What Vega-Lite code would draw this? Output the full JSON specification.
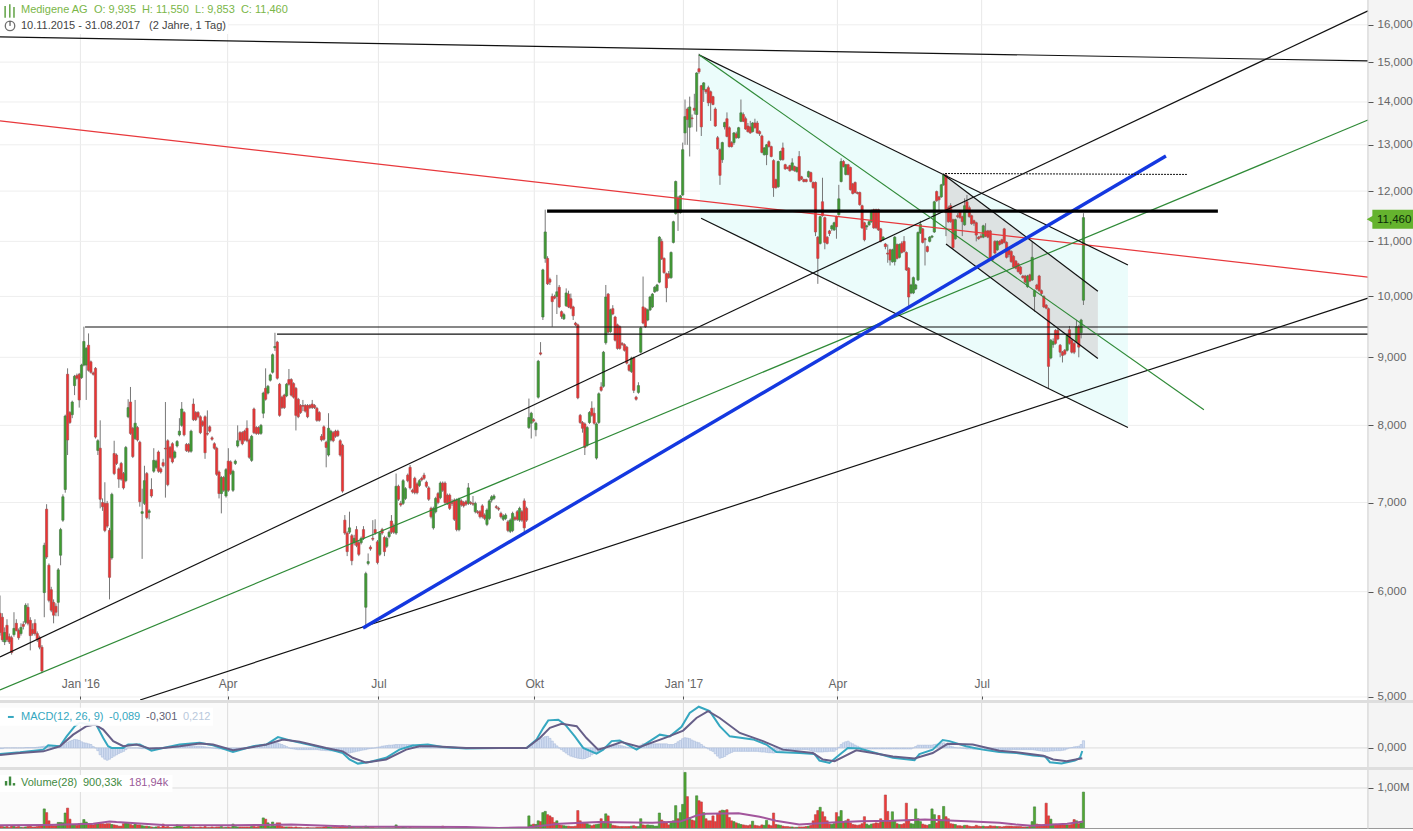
{"$schema":"https://vega.github.io/schema/vega-lite/v6.json","background":"#dedede","padding":0,"spacing":3,"bounds":"flush","autosize":{"type":"pad"},"config":{"view":{"stroke":null,"fill":"#ffffff"},"axis":{"labelFont":"Liberation Sans","labelFontSize":11.5,"labelColor":"#666666","title":null,"domain":false,"grid":false,"tickColor":"#555555"},"text":{"font":"Liberation Sans","fontSize":11,"align":"left","baseline":"middle"}},
"datasets":{
"vgrid":[{"s":34.5},{"s":97.7},{"s":162.4},{"s":229.3},{"s":293.3},{"s":359.4},{"s":421.3}],
"hgrid":[{"a":0,"b":587.1,"p":5},{"a":0,"b":587.1,"p":6},{"a":0,"b":587.1,"p":7},{"a":0,"b":587.1,"p":8},{"a":0,"b":587.1,"p":9},{"a":0,"b":587.1,"p":10},{"a":0,"b":587.1,"p":11},{"a":0,"b":587.1,"p":12},{"a":0,"b":587.1,"p":13},{"a":0,"b":587.1,"p":14},{"a":0,"b":587.1,"p":15},{"a":0,"b":587.1,"p":16}],
"candles":[
{"s":0,"o":5.78,"h":5.96,"l":5.56,"c":5.59,"v":70,"m":-0.02},{"s":1,"o":5.74,"h":5.78,"l":5.5,"c":5.52,"v":60,"m":-0.02},{"s":2,"o":5.5,"h":5.64,"l":5.47,"c":5.59,"v":50,"m":0},{"s":3,"o":5.66,"h":5.72,"l":5.5,"c":5.52,"v":60,"m":0},{"s":4,"o":5.55,"h":5.58,"l":5.48,"c":5.5,"v":40,"m":0},{"s":5,"o":5.54,"h":5.56,"l":5.38,"c":5.4,"v":70,"m":0},{"s":6,"o":5.57,"h":5.79,"l":5.55,"c":5.63,"v":60,"m":0},{"s":7,"o":5.68,"h":5.72,"l":5.6,"c":5.61,"v":50,"m":0},{"s":8,"o":5.61,"h":5.63,"l":5.52,"c":5.54,"v":60,"m":0},{"s":9,"o":5.58,"h":5.68,"l":5.56,"c":5.64,"v":40,"m":0},{"s":10,"o":5.67,"h":5.7,"l":5.62,"c":5.65,"v":40,"m":0},{"s":11,"o":5.69,"h":5.88,"l":5.67,"c":5.86,"v":50,"m":0.01},{"s":12,"o":5.84,"h":5.88,"l":5.66,"c":5.68,"v":60,"m":0.01},{"s":13,"o":5.71,"h":5.74,"l":5.42,"c":5.56,"v":70,"m":0.01},{"s":14,"o":5.62,"h":5.68,"l":5.56,"c":5.58,"v":50,"m":0.01},{"s":15,"o":5.68,"h":5.72,"l":5.56,"c":5.58,"v":50,"m":0.01},{"s":16,"o":5.58,"h":5.6,"l":5.5,"c":5.52,"v":60,"m":0.02},{"s":17,"o":5.54,"h":5.56,"l":5.43,"c":5.45,"v":70,"m":0.03},{"s":18,"o":5.45,"h":5.47,"l":5.21,"c":5.23,"v":110,"m":0.04},
{"s":19,"o":5.99,"h":6.53,"l":5.74,"c":6.5,"v":490,"m":0.05},{"s":20,"o":6.92,"h":6.98,"l":6.35,"c":6.37,"v":400,"m":0.05},{"s":21,"o":6.28,"h":6.3,"l":5.89,"c":5.91,"v":200,"m":0.05},{"s":22,"o":6.02,"h":6.05,"l":5.79,"c":5.81,"v":90,"m":0.05},{"s":23,"o":5.89,"h":5.92,"l":5.68,"c":5.76,"v":80,"m":0.05},{"s":24,"o":5.85,"h":5.88,"l":5.75,"c":5.79,"v":80,"m":0.05},{"s":25,"o":5.89,"h":6.25,"l":5.75,"c":6.23,"v":160,"m":0.05},{"s":26,"o":6.39,"h":6.7,"l":6.28,"c":6.68,"v":160,"m":0.06},{"s":27,"o":6.79,"h":7.1,"l":6.77,"c":7.07,"v":150,"m":0.08},{"s":28,"o":7.16,"h":8.15,"l":7.12,"c":8.13,"v":390,"m":0.12},{"s":29,"o":8.74,"h":8.83,"l":7.6,"c":7.8,"v":510,"m":0.16},{"s":30,"o":8.18,"h":8.2,"l":8.02,"c":8.04,"v":240,"m":0.2},{"s":31,"o":8.15,"h":8.35,"l":8.1,"c":8.33,"v":110,"m":0.22},{"s":32,"o":8.57,"h":8.73,"l":8.43,"c":8.71,"v":110,"m":0.25},{"s":33,"o":8.72,"h":8.75,"l":8.66,"c":8.68,"v":90,"m":0.24},{"s":34,"o":8.74,"h":8.76,"l":8.25,"c":8.36,"v":130,"m":0.22},{"s":35,"o":8.69,"h":8.9,"l":8.67,"c":8.88,"v":140,"m":0.18},{"s":36,"o":8.88,"h":9.49,"l":8.86,"c":9.25,"v":230,"m":0.15},{"s":37,"o":8.88,"h":9.16,"l":8.36,"c":9.14,"v":170,"m":0.14},{"s":38,"o":9.19,"h":9.38,"l":8.78,"c":8.8,"v":130,"m":0.12},{"s":39,"o":8.93,"h":8.95,"l":8.75,"c":8.77,"v":120,"m":0.1},{"s":40,"o":8.76,"h":8.78,"l":8.72,"c":8.74,"v":100,"m":0.04},{"s":41,"o":8.83,"h":8.85,"l":7.82,"c":7.84,"v":130,"m":0},{"s":42,"o":7.66,"h":7.81,"l":7.6,"c":7.79,"v":120,"m":-0.08},{"s":43,"o":7.69,"h":8.07,"l":6.93,"c":7.04,"v":140,"m":-0.2},{"s":44,"o":7.0,"h":7.05,"l":6.9,"c":6.95,"v":130,"m":-0.27},{"s":45,"o":6.99,"h":7.25,"l":6.65,"c":6.67,"v":120,"m":-0.33},{"s":46,"o":6.99,"h":7.02,"l":6.7,"c":6.72,"v":130,"m":-0.36},{"s":47,"o":6.67,"h":6.7,"l":5.92,"c":6.15,"v":130,"m":-0.33},{"s":48,"o":6.36,"h":7.12,"l":6.34,"c":7.1,"v":110,"m":-0.28},{"s":49,"o":7.62,"h":7.79,"l":7.34,"c":7.36,"v":100,"m":-0.24},{"s":50,"o":7.6,"h":7.62,"l":7.47,"c":7.49,"v":90,"m":-0.2},{"s":51,"o":7.42,"h":7.44,"l":7.18,"c":7.29,"v":70,"m":-0.16},{"s":52,"o":7.49,"h":7.51,"l":7.27,"c":7.29,"v":70,"m":-0.13},{"s":53,"o":7.36,"h":7.38,"l":7.16,"c":7.18,"v":130,"m":-0.1},{"s":54,"o":7.27,"h":7.72,"l":7.25,"c":7.7,"v":150,"m":-0.05},{"s":55,"o":8.12,"h":8.37,"l":8.1,"c":8.25,"v":140,"m":0},{"s":56,"o":8.33,"h":8.55,"l":7.87,"c":7.89,"v":110,"m":0},{"s":57,"o":7.96,"h":7.98,"l":7.56,"c":7.58,"v":90,"m":0},{"s":58,"o":7.82,"h":8.36,"l":7.8,"c":8.03,"v":120,"m":0},{"s":59,"o":7.97,"h":7.99,"l":7.78,"c":7.8,"v":100,"m":0},{"s":60,"o":7.77,"h":7.79,"l":6.95,"c":7.01,"v":100,"m":-0.01},{"s":61,"o":6.87,"h":7.17,"l":6.35,"c":6.89,"v":80,"m":-0.02},{"s":62,"o":6.99,"h":7.46,"l":6.97,"c":7.27,"v":70,"m":-0.02},{"s":63,"o":7.36,"h":7.38,"l":6.8,"c":6.82,"v":70,"m":-0.03},{"s":64,"o":6.88,"h":6.92,"l":6.8,"c":6.9,"v":60,"m":-0.04},{"s":65,"o":7.16,"h":7.3,"l":7.06,"c":7.08,"v":50,"m":-0.05},{"s":66,"o":7.39,"h":7.69,"l":7.37,"c":7.53,"v":40,"m":-0.04},{"s":67,"o":7.44,"h":7.54,"l":7.42,"c":7.52,"v":50,"m":-0.03},{"s":68,"o":7.64,"h":7.66,"l":7.37,"c":7.39,"v":60,"m":-0.02},{"s":69,"o":7.42,"h":7.44,"l":7.36,"c":7.38,"v":40,"m":-0.01},{"s":70,"o":7.5,"h":7.55,"l":7.44,"c":7.46,"v":120,"m":0},{"s":71,"o":7.69,"h":8.33,"l":7.06,"c":7.68,"v":50,"m":0},{"s":72,"o":7.79,"h":7.81,"l":7.2,"c":7.22,"v":60,"m":0.01},{"s":73,"o":7.7,"h":7.72,"l":7.55,"c":7.57,"v":40,"m":0.01},{"s":74,"o":7.75,"h":7.77,"l":7.49,"c":7.51,"v":40,"m":0.02},{"s":75,"o":7.57,"h":7.66,"l":7.55,"c":7.64,"v":50,"m":0.03},{"s":76,"o":7.72,"h":7.8,"l":7.7,"c":7.78,"v":100,"m":0.04},{"s":77,"o":7.87,"h":8.1,"l":7.85,"c":7.92,"v":90,"m":0.05},{"s":78,"o":8.0,"h":8.33,"l":7.98,"c":8.23,"v":60,"m":0.05},{"s":79,"o":8.18,"h":8.2,"l":7.85,"c":7.87,"v":50,"m":0.05},{"s":80,"o":7.74,"h":7.76,"l":7.64,"c":7.66,"v":50,"m":0.05},{"s":81,"o":7.74,"h":7.76,"l":7.63,"c":7.65,"v":60,"m":0.05},{"s":82,"o":7.65,"h":7.94,"l":7.63,"c":7.92,"v":50,"m":0.05},{"s":83,"o":8.3,"h":8.38,"l":8.06,"c":8.08,"v":50,"m":0.05},{"s":84,"o":8.18,"h":8.2,"l":8.06,"c":8.08,"v":40,"m":0.05},{"s":85,"o":8.18,"h":8.2,"l":8.1,"c":8.12,"v":40,"m":0.05},{"s":86,"o":8.12,"h":8.14,"l":7.88,"c":7.9,"v":50,"m":0.05},{"s":87,"o":8.05,"h":8.07,"l":7.98,"c":8.0,"v":40,"m":0.04},{"s":88,"o":8.12,"h":8.14,"l":7.55,"c":7.63,"v":60,"m":0.03},{"s":89,"o":7.89,"h":8.21,"l":7.86,"c":7.88,"v":40,"m":0.02},{"s":90,"o":7.98,"h":8.0,"l":7.9,"c":7.92,"v":40,"m":0.01},{"s":91,"o":7.83,"h":7.85,"l":7.79,"c":7.81,"v":50,"m":0},{"s":92,"o":7.75,"h":7.77,"l":7.67,"c":7.69,"v":40,"m":-0.01},{"s":93,"o":7.69,"h":7.71,"l":7.33,"c":7.35,"v":50,"m":-0.02},{"s":94,"o":7.38,"h":7.4,"l":7.05,"c":7.11,"v":50,"m":-0.03},{"s":95,"o":7.11,"h":7.33,"l":6.87,"c":7.31,"v":60,"m":-0.03},{"s":96,"o":7.31,"h":7.33,"l":7.13,"c":7.15,"v":40,"m":-0.04},{"s":97,"o":7.08,"h":7.43,"l":7.06,"c":7.41,"v":40,"m":-0.04},{"s":98,"o":7.52,"h":7.69,"l":7.13,"c":7.15,"v":50,"m":-0.05},{"s":99,"o":7.51,"h":7.53,"l":7.34,"c":7.36,"v":40,"m":-0.05},{"s":100,"o":7.15,"h":7.41,"l":7.13,"c":7.39,"v":120,"m":-0.05},{"s":101,"o":7.49,"h":7.54,"l":7.47,"c":7.52,"v":60,"m":-0.03},{"s":102,"o":7.72,"h":8.0,"l":7.7,"c":7.79,"v":50,"m":-0.02},{"s":103,"o":7.9,"h":7.92,"l":7.78,"c":7.8,"v":50,"m":-0.01},{"s":104,"o":7.9,"h":7.92,"l":7.73,"c":7.75,"v":50,"m":0},{"s":105,"o":7.92,"h":7.94,"l":7.78,"c":7.8,"v":50,"m":0.01},{"s":106,"o":7.96,"h":8.07,"l":7.77,"c":7.79,"v":50,"m":0.02},{"s":107,"o":7.8,"h":7.82,"l":7.55,"c":7.57,"v":50,"m":0.02},{"s":108,"o":7.53,"h":7.87,"l":7.51,"c":7.85,"v":60,"m":0.02},{"s":109,"o":8.23,"h":8.25,"l":7.88,"c":7.9,"v":60,"m":0.03},{"s":110,"o":7.97,"h":7.99,"l":7.87,"c":7.89,"v":50,"m":0.05},{"s":111,"o":7.97,"h":7.99,"l":7.87,"c":7.89,"v":60,"m":0.06},{"s":112,"o":7.89,"h":8.02,"l":7.87,"c":8.0,"v":80,"m":0.07},{"s":113,"o":8.17,"h":8.48,"l":8.1,"c":8.46,"v":270,"m":0.1},{"s":114,"o":8.53,"h":8.83,"l":8.35,"c":8.37,"v":240,"m":0.1},{"s":115,"o":8.46,"h":8.58,"l":8.44,"c":8.56,"v":150,"m":0.11},{"s":116,"o":8.65,"h":8.75,"l":8.63,"c":8.73,"v":60,"m":0.12},{"s":117,"o":8.77,"h":9.06,"l":8.75,"c":9.04,"v":170,"m":0.13},{"s":118,"o":9.15,"h":9.39,"l":9.1,"c":9.17,"v":70,"m":0.14},{"s":119,"o":9.24,"h":9.26,"l":8.66,"c":8.68,"v":150,"m":0.15},{"s":120,"o":8.59,"h":8.61,"l":8.12,"c":8.14,"v":150,"m":0.12},{"s":121,"o":8.4,"h":8.42,"l":8.23,"c":8.25,"v":60,"m":0.1},{"s":122,"o":8.43,"h":8.45,"l":8.23,"c":8.25,"v":50,"m":0.07},{"s":123,"o":8.42,"h":8.61,"l":8.4,"c":8.59,"v":50,"m":0.04},{"s":124,"o":8.66,"h":8.82,"l":8.57,"c":8.59,"v":50,"m":0},{"s":125,"o":8.66,"h":8.68,"l":8.41,"c":8.43,"v":50,"m":-0.02},{"s":126,"o":8.6,"h":8.62,"l":8.38,"c":8.4,"v":40,"m":-0.03},{"s":127,"o":8.53,"h":8.55,"l":7.93,"c":8.14,"v":50,"m":-0.04},{"s":128,"o":8.37,"h":8.39,"l":8.1,"c":8.12,"v":40,"m":-0.05},{"s":129,"o":8.28,"h":8.3,"l":8.16,"c":8.18,"v":40,"m":-0.05},{"s":130,"o":8.28,"h":8.36,"l":8.2,"c":8.27,"v":30,"m":-0.05},{"s":131,"o":8.28,"h":8.3,"l":8.18,"c":8.2,"v":30,"m":-0.05},{"s":132,"o":8.28,"h":8.3,"l":8.1,"c":8.12,"v":40,"m":-0.05},{"s":133,"o":8.28,"h":8.3,"l":8.23,"c":8.25,"v":30,"m":-0.05},{"s":134,"o":8.3,"h":8.36,"l":8.23,"c":8.25,"v":30,"m":-0.05},{"s":135,"o":8.28,"h":8.3,"l":8.23,"c":8.25,"v":30,"m":-0.05},{"s":136,"o":8.24,"h":8.26,"l":8.05,"c":8.07,"v":40,"m":-0.05},{"s":137,"o":8.18,"h":8.2,"l":8.05,"c":8.07,"v":40,"m":-0.06},{"s":138,"o":7.85,"h":7.88,"l":7.78,"c":7.8,"v":40,"m":-0.07},{"s":139,"o":7.98,"h":8.0,"l":7.79,"c":7.81,"v":50,"m":-0.07},{"s":140,"o":7.77,"h":7.79,"l":7.44,"c":7.7,"v":60,"m":-0.08},{"s":141,"o":7.6,"h":8.17,"l":7.58,"c":7.96,"v":50,"m":-0.08},{"s":142,"o":7.8,"h":7.94,"l":7.78,"c":7.92,"v":40,"m":-0.09},{"s":143,"o":7.9,"h":7.92,"l":7.77,"c":7.79,"v":40,"m":-0.09},{"s":144,"o":7.92,"h":7.94,"l":7.83,"c":7.85,"v":40,"m":-0.1},{"s":145,"o":7.92,"h":7.94,"l":7.84,"c":7.86,"v":40,"m":-0.1},{"s":146,"o":7.79,"h":7.81,"l":7.58,"c":7.6,"v":60,"m":-0.1},{"s":147,"o":7.73,"h":7.75,"l":7.12,"c":7.14,"v":80,"m":-0.12},
{"s":148,"o":6.79,"h":6.85,"l":6.62,"c":6.64,"v":70,"m":-0.13},{"s":149,"o":6.64,"h":6.66,"l":6.38,"c":6.43,"v":60,"m":-0.14},{"s":150,"o":6.65,"h":6.89,"l":6.63,"c":6.7,"v":80,"m":-0.15},{"s":151,"o":6.61,"h":6.63,"l":6.28,"c":6.33,"v":60,"m":-0.13},{"s":152,"o":6.53,"h":6.62,"l":6.5,"c":6.58,"v":40,"m":-0.12},{"s":153,"o":6.68,"h":6.72,"l":6.48,"c":6.5,"v":40,"m":-0.1},{"s":154,"o":6.53,"h":6.55,"l":6.38,"c":6.4,"v":40,"m":-0.09},{"s":155,"o":6.53,"h":6.6,"l":6.51,"c":6.58,"v":40,"m":-0.07},{"s":156,"o":6.68,"h":6.72,"l":6.56,"c":6.58,"v":40,"m":-0.06},{"s":157,"o":5.84,"h":6.21,"l":5.63,"c":6.19,"v":70,"m":-0.05},{"s":158,"o":6.3,"h":6.41,"l":6.28,"c":6.32,"v":50,"m":-0.03},{"s":159,"o":6.48,"h":6.5,"l":6.44,"c":6.46,"v":40,"m":-0.02},{"s":160,"o":6.58,"h":6.79,"l":6.55,"c":6.57,"v":40,"m":-0.01},{"s":161,"o":6.68,"h":6.8,"l":6.62,"c":6.64,"v":30,"m":0},{"s":162,"o":6.54,"h":6.56,"l":6.29,"c":6.31,"v":30,"m":0.02},{"s":163,"o":6.4,"h":6.66,"l":6.38,"c":6.64,"v":30,"m":0.03},{"s":164,"o":6.68,"h":6.7,"l":6.62,"c":6.64,"v":30,"m":0.05},{"s":165,"o":6.59,"h":6.61,"l":6.38,"c":6.43,"v":30,"m":0.06},{"s":166,"o":6.49,"h":6.6,"l":6.47,"c":6.58,"v":30,"m":0.07},{"s":167,"o":6.6,"h":6.67,"l":6.58,"c":6.65,"v":30,"m":0.08},{"s":168,"o":6.78,"h":6.85,"l":6.63,"c":6.65,"v":30,"m":0.08},{"s":169,"o":6.72,"h":6.75,"l":6.63,"c":6.65,"v":30,"m":0.09},{"s":170,"o":6.64,"h":7.36,"l":6.62,"c":7.2,"v":100,"m":0.1},{"s":171,"o":7.2,"h":7.22,"l":7.02,"c":7.04,"v":60,"m":0.1},{"s":172,"o":6.99,"h":7.02,"l":6.95,"c":6.97,"v":40,"m":0.1},{"s":173,"o":6.99,"h":7.29,"l":6.97,"c":7.27,"v":50,"m":0.1},{"s":174,"o":7.05,"h":7.19,"l":7.03,"c":7.17,"v":40,"m":0.1},{"s":175,"o":7.34,"h":7.36,"l":7.25,"c":7.27,"v":30,"m":0.1},{"s":176,"o":7.44,"h":7.47,"l":7.16,"c":7.18,"v":40,"m":0.1},{"s":177,"o":7.15,"h":7.17,"l":7.11,"c":7.13,"v":30,"m":0.1},{"s":178,"o":7.3,"h":7.32,"l":7.1,"c":7.12,"v":30,"m":0.08},{"s":179,"o":7.23,"h":7.25,"l":7.1,"c":7.12,"v":30,"m":0.07},{"s":180,"o":7.21,"h":7.29,"l":7.19,"c":7.27,"v":30,"m":0.06},{"s":181,"o":7.3,"h":7.32,"l":7.26,"c":7.28,"v":30,"m":0.05},{"s":182,"o":7.34,"h":7.37,"l":7.28,"c":7.3,"v":30,"m":0.03},{"s":183,"o":7.25,"h":7.27,"l":7.18,"c":7.2,"v":30,"m":0.02},{"s":184,"o":7.18,"h":7.2,"l":7.02,"c":7.04,"v":30,"m":0.02},{"s":185,"o":6.93,"h":6.95,"l":6.81,"c":6.83,"v":30,"m":0.01},{"s":186,"o":6.7,"h":6.95,"l":6.68,"c":6.93,"v":30,"m":0.01},{"s":187,"o":6.89,"h":7.07,"l":6.87,"c":7.05,"v":30,"m":0.01},{"s":188,"o":7.11,"h":7.13,"l":6.98,"c":7.0,"v":30,"m":0.01},{"s":189,"o":7.06,"h":7.26,"l":7.04,"c":7.24,"v":30,"m":0},{"s":190,"o":7.24,"h":7.26,"l":7.13,"c":7.15,"v":70,"m":0},{"s":191,"o":7.24,"h":7.26,"l":6.98,"c":7.0,"v":30,"m":0},{"s":192,"o":7.09,"h":7.11,"l":6.97,"c":6.99,"v":20,"m":0},{"s":193,"o":7.09,"h":7.11,"l":6.91,"c":6.93,"v":20,"m":0},{"s":194,"o":7.0,"h":7.04,"l":6.96,"c":6.99,"v":20,"m":0},{"s":195,"o":7.03,"h":7.05,"l":6.78,"c":6.8,"v":20,"m":0},{"s":196,"o":7.03,"h":7.05,"l":6.66,"c":6.68,"v":30,"m":0},{"s":197,"o":6.68,"h":7.06,"l":6.66,"c":7.04,"v":30,"m":0},{"s":198,"o":7.02,"h":7.04,"l":6.95,"c":6.97,"v":20,"m":0},{"s":199,"o":7.0,"h":7.02,"l":6.94,"c":6.96,"v":20,"m":0},{"s":200,"o":7.01,"h":7.03,"l":6.96,"c":6.98,"v":20,"m":0},{"s":201,"o":6.99,"h":7.24,"l":6.97,"c":7.18,"v":30,"m":0},{"s":202,"o":7.0,"h":7.02,"l":6.97,"c":6.99,"v":20,"m":0},{"s":203,"o":6.99,"h":7.08,"l":6.96,"c":6.98,"v":20,"m":0},{"s":204,"o":6.89,"h":7.01,"l":6.87,"c":6.99,"v":20,"m":0},{"s":205,"o":6.89,"h":6.91,"l":6.86,"c":6.88,"v":20,"m":0},{"s":206,"o":6.89,"h":6.91,"l":6.81,"c":6.83,"v":20,"m":0},{"s":207,"o":6.96,"h":6.98,"l":6.81,"c":6.83,"v":20,"m":0},{"s":208,"o":6.85,"h":6.87,"l":6.79,"c":6.81,"v":20,"m":0},{"s":209,"o":6.74,"h":6.93,"l":6.72,"c":6.91,"v":20,"m":0},{"s":210,"o":6.81,"h":7.04,"l":6.79,"c":7.02,"v":20,"m":0},{"s":211,"o":7.03,"h":7.09,"l":7.0,"c":7.07,"v":20,"m":0},{"s":212,"o":7.05,"h":7.1,"l":7.03,"c":7.08,"v":20,"m":0},{"s":213,"o":6.95,"h":6.97,"l":6.92,"c":6.94,"v":20,"m":0},{"s":214,"o":6.93,"h":6.95,"l":6.9,"c":6.92,"v":20,"m":0},{"s":215,"o":6.87,"h":6.89,"l":6.81,"c":6.83,"v":20,"m":0},{"s":216,"o":6.8,"h":6.86,"l":6.78,"c":6.84,"v":20,"m":0},{"s":217,"o":6.81,"h":6.87,"l":6.79,"c":6.85,"v":20,"m":0},{"s":218,"o":6.77,"h":6.79,"l":6.65,"c":6.67,"v":20,"m":0},{"s":219,"o":6.66,"h":6.81,"l":6.64,"c":6.79,"v":20,"m":0},{"s":220,"o":6.67,"h":6.89,"l":6.65,"c":6.87,"v":30,"m":0},{"s":221,"o":6.82,"h":6.84,"l":6.78,"c":6.8,"v":20,"m":0},{"s":222,"o":6.89,"h":6.91,"l":6.78,"c":6.8,"v":20,"m":0},{"s":223,"o":6.79,"h":6.95,"l":6.77,"c":6.93,"v":20,"m":0},{"s":224,"o":6.89,"h":6.91,"l":6.77,"c":6.79,"v":20,"m":0},{"s":225,"o":7.02,"h":7.05,"l":6.62,"c":6.7,"v":20,"m":0},{"s":226,"o":6.93,"h":6.95,"l":6.77,"c":6.79,"v":30,"m":0},
{"s":227,"o":7.97,"h":8.38,"l":7.95,"c":8.11,"v":320,"m":0.05},{"s":228,"o":8.03,"h":8.19,"l":7.82,"c":8.17,"v":100,"m":0.08},{"s":229,"o":8.08,"h":8.1,"l":8.04,"c":8.06,"v":120,"m":0.12},{"s":230,"o":7.94,"h":8.05,"l":7.85,"c":8.03,"v":110,"m":0.15},{"s":231,"o":8.4,"h":8.96,"l":8.38,"c":8.94,"v":200,"m":0.2},{"s":232,"o":9.07,"h":9.24,"l":9.03,"c":9.05,"v":180,"m":0.25},{"s":233,"o":9.65,"h":10.49,"l":9.6,"c":10.47,"v":400,"m":0.3},{"s":234,"o":10.68,"h":11.62,"l":10.6,"c":11.18,"v":430,"m":0.33},{"s":235,"o":10.68,"h":10.72,"l":10.2,"c":10.22,"v":350,"m":0.34},{"s":236,"o":10.3,"h":10.33,"l":10.2,"c":10.25,"v":320,"m":0.28},{"s":237,"o":10.0,"h":10.05,"l":9.49,"c":9.91,"v":280,"m":0.2},{"s":238,"o":10.0,"h":10.03,"l":9.95,"c":9.97,"v":160,"m":0.12},{"s":239,"o":10.0,"h":10.38,"l":9.7,"c":10.08,"v":200,"m":0.06},{"s":240,"o":10.16,"h":10.2,"l":9.8,"c":9.82,"v":100,"m":0},{"s":241,"o":9.74,"h":9.76,"l":9.62,"c":9.66,"v":90,"m":-0.05},{"s":242,"o":9.62,"h":9.72,"l":9.6,"c":9.69,"v":80,"m":-0.1},{"s":243,"o":9.84,"h":10.14,"l":9.82,"c":10.06,"v":70,"m":-0.15},{"s":244,"o":10.04,"h":10.1,"l":9.8,"c":9.82,"v":70,"m":-0.2},{"s":245,"o":9.96,"h":10.05,"l":9.78,"c":9.8,"v":60,"m":-0.24},{"s":246,"o":9.82,"h":9.84,"l":9.6,"c":9.67,"v":60,"m":-0.26},{"s":247,"o":9.55,"h":9.57,"l":9.5,"c":9.52,"v":70,"m":-0.28},{"s":248,"o":9.52,"h":9.54,"l":8.37,"c":8.39,"v":450,"m":-0.3},{"s":249,"o":8.14,"h":8.16,"l":8.02,"c":8.04,"v":200,"m":-0.31},{"s":250,"o":8.04,"h":8.06,"l":7.9,"c":7.96,"v":150,"m":-0.32},{"s":251,"o":8.02,"h":8.04,"l":7.6,"c":7.7,"v":140,"m":-0.31},{"s":252,"o":7.73,"h":7.99,"l":7.71,"c":7.97,"v":130,"m":-0.28},{"s":253,"o":8.04,"h":8.2,"l":8.02,"c":8.18,"v":100,"m":-0.25},{"s":254,"o":8.24,"h":8.34,"l":8.12,"c":8.14,"v":80,"m":-0.2},{"s":255,"o":8.17,"h":8.25,"l":8.01,"c":8.03,"v":100,"m":-0.16},{"s":256,"o":7.56,"h":8.04,"l":7.54,"c":8.02,"v":110,"m":-0.12},{"s":257,"o":8.04,"h":8.47,"l":8.02,"c":8.45,"v":120,"m":-0.08},{"s":258,"o":8.55,"h":8.62,"l":8.48,"c":8.5,"v":250,"m":-0.03},{"s":259,"o":8.56,"h":9.1,"l":8.54,"c":9.08,"v":170,"m":0},{"s":260,"o":9.23,"h":10.2,"l":9.2,"c":9.99,"v":370,"m":0.03},{"s":261,"o":10.04,"h":10.06,"l":9.38,"c":9.4,"v":320,"m":0.06},{"s":262,"o":9.41,"h":9.79,"l":9.39,"c":9.77,"v":130,"m":0.08},{"s":263,"o":9.79,"h":9.85,"l":9.68,"c":9.7,"v":90,"m":0.09},{"s":264,"o":9.65,"h":9.67,"l":9.25,"c":9.27,"v":80,"m":0.1},{"s":265,"o":9.52,"h":9.54,"l":9.12,"c":9.14,"v":70,"m":0.09},{"s":266,"o":9.49,"h":9.51,"l":9.12,"c":9.14,"v":60,"m":0.08},{"s":267,"o":9.22,"h":9.24,"l":9.18,"c":9.2,"v":60,"m":0.06},{"s":268,"o":9.2,"h":9.22,"l":9.09,"c":9.11,"v":60,"m":0.04},{"s":269,"o":9.16,"h":9.18,"l":8.89,"c":8.91,"v":60,"m":0.02},{"s":270,"o":8.88,"h":8.9,"l":8.78,"c":8.8,"v":60,"m":0.01},{"s":271,"o":8.78,"h":9.01,"l":8.76,"c":8.99,"v":70,"m":0},{"s":272,"o":8.99,"h":9.01,"l":8.46,"c":8.5,"v":80,"m":-0.01},{"s":273,"o":8.4,"h":8.42,"l":8.35,"c":8.37,"v":60,"m":-0.02},{"s":274,"o":8.47,"h":8.62,"l":8.45,"c":8.57,"v":60,"m":0.03},{"s":275,"o":9.08,"h":9.49,"l":9.06,"c":9.47,"v":250,"m":0.08},{"s":276,"o":9.82,"h":10.35,"l":9.53,"c":9.55,"v":100,"m":0.12},{"s":277,"o":9.79,"h":9.81,"l":9.47,"c":9.49,"v":90,"m":0.12},{"s":278,"o":9.6,"h":9.79,"l":9.58,"c":9.77,"v":100,"m":0.12},{"s":279,"o":9.77,"h":10.01,"l":9.75,"c":9.99,"v":90,"m":0.12},{"s":280,"o":9.82,"h":10.06,"l":9.8,"c":10.04,"v":90,"m":0.12},{"s":281,"o":10.08,"h":10.18,"l":10.06,"c":10.16,"v":70,"m":0.12},{"s":282,"o":10.1,"h":10.22,"l":10.08,"c":10.2,"v":70,"m":0.12},{"s":283,"o":10.25,"h":11.1,"l":10.23,"c":11.08,"v":390,"m":0.12},{"s":284,"o":11.0,"h":11.05,"l":10.65,"c":10.67,"v":220,"m":0.12},{"s":285,"o":10.68,"h":10.7,"l":10.4,"c":10.42,"v":180,"m":0.12},{"s":286,"o":10.4,"h":10.42,"l":9.9,"c":10.15,"v":150,"m":0.12},{"s":287,"o":10.4,"h":10.45,"l":10.31,"c":10.33,"v":100,"m":0.1},{"s":288,"o":10.33,"h":10.81,"l":10.31,"c":10.79,"v":160,"m":0.1},{"s":289,"o":10.98,"h":11.4,"l":10.96,"c":11.38,"v":200,"m":0.1},{"s":290,"o":11.54,"h":12.22,"l":11.52,"c":12.2,"v":570,"m":0.13},{"s":291,"o":11.86,"h":11.9,"l":11.2,"c":11.56,"v":250,"m":0.18},{"s":292,"o":11.56,"h":11.92,"l":11.54,"c":11.9,"v":400,"m":0.22},{"s":293,"o":11.92,"h":13.05,"l":11.9,"c":12.89,"v":600,"m":0.27},{"s":294,"o":13.27,"h":14.06,"l":13.0,"c":13.65,"v":1380,"m":0.3},{"s":295,"o":13.83,"h":13.87,"l":13.0,"c":13.58,"v":790,"m":0.29},{"s":296,"o":13.4,"h":14.13,"l":12.74,"c":13.88,"v":280,"m":0.27},{"s":297,"o":13.62,"h":13.7,"l":13.4,"c":13.6,"v":220,"m":0.23},{"s":298,"o":13.85,"h":14.2,"l":13.7,"c":13.8,"v":200,"m":0.2},{"s":299,"o":13.7,"h":14.74,"l":13.3,"c":14.72,"v":810,"m":0.17},{"s":300,"o":14.83,"h":15.22,"l":14.7,"c":14.75,"v":690,"m":0.15},{"s":301,"o":14.4,"h":14.42,"l":13.2,"c":13.41,"v":660,"m":0.1},{"s":302,"o":14.3,"h":14.49,"l":14.0,"c":14.47,"v":400,"m":0.05},{"s":303,"o":14.3,"h":14.32,"l":14.2,"c":14.25,"v":250,"m":0.01},{"s":304,"o":14.35,"h":14.4,"l":13.9,"c":13.98,"v":200,"m":-0.03},{"s":305,"o":14.25,"h":14.28,"l":13.55,"c":13.98,"v":200,"m":-0.07},{"s":306,"o":14.13,"h":14.15,"l":13.92,"c":13.94,"v":320,"m":-0.1},{"s":307,"o":13.83,"h":13.87,"l":13.41,"c":13.43,"v":180,"m":-0.17},{"s":308,"o":13.16,"h":13.2,"l":12.89,"c":12.91,"v":380,"m":-0.24},{"s":309,"o":12.89,"h":12.92,"l":12.13,"c":12.33,"v":440,"m":-0.3},{"s":310,"o":12.67,"h":13.07,"l":12.6,"c":13.05,"v":460,"m":-0.28},{"s":311,"o":13.41,"h":13.53,"l":13.35,"c":13.51,"v":450,"m":-0.25},{"s":312,"o":13.6,"h":13.75,"l":13.17,"c":13.19,"v":470,"m":-0.2},{"s":313,"o":13.39,"h":13.42,"l":12.94,"c":12.96,"v":280,"m":-0.16},{"s":314,"o":13.05,"h":13.08,"l":12.94,"c":12.96,"v":200,"m":-0.13},{"s":315,"o":13.05,"h":13.29,"l":13.0,"c":13.27,"v":180,"m":-0.1},{"s":316,"o":13.25,"h":13.3,"l":13.14,"c":13.16,"v":150,"m":-0.1},{"s":317,"o":13.16,"h":13.41,"l":13.14,"c":13.39,"v":130,"m":-0.1},{"s":318,"o":13.54,"h":14.06,"l":13.52,"c":13.74,"v":110,"m":-0.1},{"s":319,"o":13.7,"h":13.75,"l":13.52,"c":13.54,"v":100,"m":-0.1},{"s":320,"o":13.6,"h":13.65,"l":13.34,"c":13.36,"v":90,"m":-0.1},{"s":321,"o":13.43,"h":13.5,"l":13.28,"c":13.3,"v":80,"m":-0.1},{"s":322,"o":13.41,"h":13.55,"l":13.25,"c":13.27,"v":100,"m":-0.1},{"s":323,"o":13.3,"h":13.52,"l":13.28,"c":13.5,"v":190,"m":-0.1},{"s":324,"o":13.5,"h":13.6,"l":13.37,"c":13.39,"v":90,"m":-0.1},{"s":325,"o":13.5,"h":13.55,"l":13.25,"c":13.27,"v":80,"m":-0.1},{"s":326,"o":13.3,"h":13.33,"l":13.2,"c":13.25,"v":70,"m":-0.11},{"s":327,"o":13.2,"h":13.23,"l":12.81,"c":12.83,"v":100,"m":-0.12},{"s":328,"o":12.78,"h":12.95,"l":12.76,"c":12.93,"v":90,"m":-0.12},{"s":329,"o":12.78,"h":13.02,"l":12.55,"c":13.0,"v":210,"m":-0.13},{"s":330,"o":13.07,"h":13.1,"l":12.94,"c":12.96,"v":100,"m":-0.14},{"s":331,"o":12.96,"h":12.98,"l":12.72,"c":12.74,"v":80,"m":-0.14},{"s":332,"o":12.65,"h":12.68,"l":11.88,"c":12.07,"v":390,"m":-0.15},{"s":333,"o":12.24,"h":12.26,"l":12.05,"c":12.07,"v":110,"m":-0.13},{"s":334,"o":12.09,"h":12.65,"l":12.07,"c":12.63,"v":100,"m":-0.11},{"s":335,"o":12.67,"h":12.87,"l":12.65,"c":12.85,"v":90,"m":-0.09},{"s":336,"o":12.93,"h":13.05,"l":12.65,"c":12.67,"v":70,"m":-0.07},{"s":337,"o":12.56,"h":12.58,"l":12.45,"c":12.47,"v":60,"m":-0.06},{"s":338,"o":12.5,"h":12.52,"l":12.46,"c":12.48,"v":60,"m":-0.05},{"s":339,"o":12.54,"h":12.56,"l":12.41,"c":12.43,"v":50,"m":-0.05},{"s":340,"o":12.45,"h":12.7,"l":12.43,"c":12.6,"v":50,"m":-0.05},{"s":341,"o":12.52,"h":12.54,"l":12.41,"c":12.43,"v":40,"m":-0.05},{"s":342,"o":12.41,"h":12.52,"l":12.39,"c":12.5,"v":40,"m":-0.05},{"s":343,"o":12.74,"h":12.86,"l":12.2,"c":12.22,"v":50,"m":-0.05},{"s":344,"o":12.3,"h":12.32,"l":12.23,"c":12.25,"v":50,"m":-0.05},{"s":345,"o":12.24,"h":12.26,"l":12.18,"c":12.2,"v":50,"m":-0.05},{"s":346,"o":12.24,"h":12.26,"l":12.18,"c":12.2,"v":60,"m":-0.05},{"s":347,"o":12.3,"h":12.43,"l":12.28,"c":12.41,"v":70,"m":-0.06},{"s":348,"o":12.39,"h":12.41,"l":12.18,"c":12.2,"v":90,"m":-0.08},{"s":349,"o":12.18,"h":12.2,"l":12.05,"c":12.07,"v":200,"m":-0.1},{"s":350,"o":12.18,"h":12.2,"l":11.1,"c":11.18,"v":350,"m":-0.11},{"s":351,"o":11.08,"h":11.1,"l":10.22,"c":10.68,"v":450,"m":-0.12},{"s":352,"o":10.96,"h":11.5,"l":10.94,"c":11.48,"v":530,"m":-0.12},{"s":353,"o":11.78,"h":12.28,"l":11.48,"c":11.5,"v":420,"m":-0.12},{"s":354,"o":11.46,"h":11.48,"l":10.85,"c":10.98,"v":300,"m":-0.11},{"s":355,"o":11.08,"h":11.1,"l":10.94,"c":10.96,"v":200,"m":-0.11},{"s":356,"o":11.2,"h":11.22,"l":11.1,"c":11.15,"v":120,"m":-0.1},{"s":357,"o":11.24,"h":11.32,"l":11.2,"c":11.3,"v":110,"m":-0.1},{"s":358,"o":11.22,"h":11.38,"l":11.2,"c":11.36,"v":130,"m":-0.1},{"s":359,"o":11.48,"h":11.5,"l":11.05,"c":11.28,"v":400,"m":-0.05},{"s":360,"o":11.52,"h":12.13,"l":11.5,"c":11.84,"v":300,"m":0.02},{"s":361,"o":12.2,"h":12.7,"l":12.18,"c":12.63,"v":450,"m":0.1},{"s":362,"o":12.63,"h":12.66,"l":12.5,"c":12.52,"v":180,"m":0.15},{"s":363,"o":12.35,"h":12.58,"l":12.33,"c":12.56,"v":200,"m":0.18},{"s":364,"o":12.56,"h":12.58,"l":12.33,"c":12.35,"v":240,"m":0.2},{"s":365,"o":12.5,"h":12.52,"l":12.01,"c":12.03,"v":150,"m":0.15},{"s":366,"o":12.15,"h":12.17,"l":11.93,"c":11.95,"v":110,"m":0.12},{"s":367,"o":12.18,"h":12.2,"l":11.95,"c":11.97,"v":100,"m":0.08},{"s":368,"o":11.97,"h":11.99,"l":11.93,"c":11.95,"v":90,"m":0.05},{"s":369,"o":11.97,"h":11.99,"l":11.7,"c":11.72,"v":100,"m":0.02},{"s":370,"o":11.7,"h":11.72,"l":11.24,"c":11.26,"v":130,"m":0},{"s":371,"o":11.36,"h":11.38,"l":11.0,"c":11.03,"v":300,"m":-0.02},{"s":372,"o":11.28,"h":11.32,"l":11.22,"c":11.3,"v":120,"m":-0.03},{"s":373,"o":11.32,"h":11.4,"l":11.3,"c":11.38,"v":90,"m":-0.03},{"s":374,"o":11.38,"h":11.62,"l":11.36,"c":11.6,"v":120,"m":-0.03},{"s":375,"o":11.62,"h":11.64,"l":11.24,"c":11.26,"v":130,"m":-0.03},{"s":376,"o":11.62,"h":11.64,"l":11.24,"c":11.26,"v":150,"m":-0.03},{"s":377,"o":11.62,"h":11.64,"l":11.2,"c":11.22,"v":140,"m":-0.03},{"s":378,"o":11.24,"h":11.26,"l":10.98,"c":11.0,"v":250,"m":-0.03},{"s":379,"o":11.03,"h":11.1,"l":11.01,"c":11.08,"v":180,"m":-0.03},{"s":380,"o":10.95,"h":10.97,"l":10.85,"c":10.9,"v":830,"m":-0.03},{"s":381,"o":10.78,"h":10.94,"l":10.6,"c":10.76,"v":430,"m":-0.03},{"s":382,"o":10.84,"h":10.86,"l":10.55,"c":10.65,"v":180,"m":-0.03},{"s":383,"o":10.62,"h":10.86,"l":10.6,"c":10.84,"v":420,"m":-0.03},{"s":384,"o":10.62,"h":11.1,"l":10.55,"c":11.08,"v":200,"m":-0.03},{"s":385,"o":10.94,"h":10.96,"l":10.66,"c":10.68,"v":130,"m":-0.03},{"s":386,"o":10.7,"h":10.96,"l":10.68,"c":10.94,"v":110,"m":-0.03},{"s":387,"o":10.96,"h":11.0,"l":10.77,"c":10.79,"v":110,"m":-0.03},{"s":388,"o":11.0,"h":11.1,"l":10.79,"c":10.81,"v":130,"m":-0.03},{"s":389,"o":10.79,"h":10.81,"l":10.45,"c":10.47,"v":630,"m":-0.03},{"s":390,"o":10.5,"h":10.52,"l":9.82,"c":9.99,"v":200,"m":-0.03},{"s":391,"o":10.06,"h":10.22,"l":10.04,"c":10.2,"v":130,"m":-0.03},{"s":392,"o":10.06,"h":10.35,"l":10.04,"c":10.33,"v":120,"m":0},{"s":393,"o":10.13,"h":10.22,"l":10.11,"c":10.2,"v":490,"m":0.04},{"s":394,"o":10.29,"h":11.19,"l":10.27,"c":11.17,"v":250,"m":0.08},{"s":395,"o":11.16,"h":11.4,"l":11.14,"c":11.33,"v":180,"m":0.08},{"s":396,"o":11.24,"h":11.26,"l":10.96,"c":10.98,"v":120,"m":0.08},{"s":397,"o":11.05,"h":11.07,"l":10.55,"c":11.03,"v":100,"m":0.08},{"s":398,"o":10.9,"h":10.92,"l":10.79,"c":10.81,"v":90,"m":0.08},{"s":399,"o":11.0,"h":11.1,"l":10.98,"c":11.08,"v":110,"m":0.08},{"s":400,"o":11.08,"h":11.12,"l":11.06,"c":11.1,"v":490,"m":0.08},{"s":401,"o":11.18,"h":11.8,"l":11.16,"c":11.78,"v":350,"m":0.1},{"s":402,"o":11.99,"h":12.01,"l":11.78,"c":11.8,"v":150,"m":0.11},{"s":403,"o":11.88,"h":11.9,"l":11.6,"c":11.82,"v":330,"m":0.12},{"s":404,"o":11.88,"h":12.15,"l":11.86,"c":12.13,"v":220,"m":0.14},{"s":405,"o":12.13,"h":12.38,"l":12.11,"c":12.34,"v":550,"m":0.15},{"s":406,"o":12.34,"h":12.38,"l":11.1,"c":11.56,"v":300,"m":0.12},{"s":407,"o":11.66,"h":11.7,"l":11.36,"c":11.38,"v":250,"m":0.1},{"s":408,"o":11.7,"h":11.75,"l":11.36,"c":11.38,"v":130,"m":0.05},{"s":409,"o":11.42,"h":11.44,"l":10.86,"c":10.88,"v":120,"m":0.03},{"s":410,"o":11.05,"h":11.44,"l":11.03,"c":11.42,"v":110,"m":0.01},{"s":411,"o":11.5,"h":11.55,"l":11.45,"c":11.48,"v":80,"m":0},{"s":412,"o":11.58,"h":11.6,"l":11.44,"c":11.46,"v":80,"m":0},{"s":413,"o":11.48,"h":11.5,"l":11.1,"c":11.38,"v":70,"m":-0.01},{"s":414,"o":11.32,"h":11.85,"l":11.3,"c":11.7,"v":90,"m":-0.02},{"s":415,"o":11.78,"h":11.92,"l":11.56,"c":11.58,"v":90,"m":-0.03},{"s":416,"o":11.66,"h":11.7,"l":11.46,"c":11.48,"v":70,"m":-0.03},{"s":417,"o":11.5,"h":11.52,"l":11.32,"c":11.34,"v":60,"m":-0.03},{"s":418,"o":11.4,"h":11.42,"l":11.3,"c":11.35,"v":60,"m":-0.04},{"s":419,"o":11.36,"h":11.38,"l":11.0,"c":11.12,"v":90,"m":-0.04},{"s":420,"o":11.08,"h":11.1,"l":11.03,"c":11.05,"v":70,"m":-0.04},{"s":421,"o":11.1,"h":11.14,"l":11.06,"c":11.08,"v":60,"m":-0.04},{"s":422,"o":11.08,"h":11.32,"l":11.06,"c":11.3,"v":70,"m":-0.04},{"s":423,"o":11.2,"h":11.35,"l":11.08,"c":11.1,"v":60,"m":-0.04},{"s":424,"o":11.2,"h":11.22,"l":11.06,"c":11.08,"v":60,"m":-0.05},{"s":425,"o":11.2,"h":11.22,"l":10.66,"c":10.68,"v":80,"m":-0.05},{"s":426,"o":10.7,"h":10.72,"l":10.63,"c":10.65,"v":70,"m":-0.05},{"s":427,"o":11.0,"h":11.02,"l":10.76,"c":10.78,"v":70,"m":-0.05},{"s":428,"o":10.84,"h":11.02,"l":10.82,"c":11.0,"v":60,"m":-0.05},{"s":429,"o":11.0,"h":11.02,"l":10.92,"c":10.94,"v":60,"m":-0.05},{"s":430,"o":11.03,"h":11.05,"l":10.94,"c":10.96,"v":50,"m":-0.05},{"s":431,"o":11.24,"h":11.26,"l":10.96,"c":10.98,"v":60,"m":-0.05},{"s":432,"o":10.98,"h":11.0,"l":10.68,"c":10.7,"v":70,"m":-0.05},{"s":433,"o":10.85,"h":10.87,"l":10.7,"c":10.75,"v":70,"m":-0.05},{"s":434,"o":10.81,"h":10.83,"l":10.6,"c":10.62,"v":70,"m":-0.05},{"s":435,"o":10.72,"h":10.74,"l":10.5,"c":10.52,"v":60,"m":-0.05},{"s":436,"o":10.63,"h":10.65,"l":10.48,"c":10.5,"v":60,"m":-0.05},{"s":437,"o":10.58,"h":10.6,"l":10.42,"c":10.44,"v":60,"m":-0.05},{"s":438,"o":10.52,"h":10.54,"l":10.38,"c":10.4,"v":60,"m":-0.05},{"s":439,"o":10.36,"h":10.38,"l":10.31,"c":10.33,"v":50,"m":-0.05},{"s":440,"o":10.36,"h":10.38,"l":10.23,"c":10.25,"v":50,"m":-0.05},{"s":441,"o":10.17,"h":10.38,"l":10.15,"c":10.36,"v":50,"m":-0.05},{"s":442,"o":10.38,"h":10.4,"l":10.25,"c":10.27,"v":60,"m":-0.05},{"s":443,"o":10.29,"h":11.0,"l":10.27,"c":10.7,"v":180,"m":-0.05},{"s":444,"o":10.0,"h":10.12,"l":9.74,"c":10.1,"v":540,"m":-0.06},{"s":445,"o":10.2,"h":10.22,"l":10.11,"c":10.13,"v":120,"m":-0.07},{"s":446,"o":10.36,"h":10.38,"l":10.08,"c":10.1,"v":110,"m":-0.08},{"s":447,"o":10.1,"h":10.12,"l":10.02,"c":10.05,"v":100,"m":-0.09},{"s":448,"o":10.0,"h":10.02,"l":9.8,"c":9.82,"v":100,"m":-0.1},{"s":449,"o":9.85,"h":9.87,"l":9.78,"c":9.8,"v":630,"m":-0.1},{"s":450,"o":9.79,"h":9.81,"l":8.52,"c":8.86,"v":320,"m":-0.1},{"s":451,"o":8.99,"h":9.29,"l":8.97,"c":9.27,"v":240,"m":-0.09},{"s":452,"o":9.2,"h":9.3,"l":9.15,"c":9.25,"v":120,"m":-0.09},{"s":453,"o":9.43,"h":9.45,"l":9.2,"c":9.22,"v":120,"m":-0.08},{"s":454,"o":9.43,"h":9.45,"l":9.27,"c":9.29,"v":110,"m":-0.08},{"s":455,"o":9.19,"h":9.21,"l":9.0,"c":9.08,"v":100,"m":-0.08},{"s":456,"o":9.08,"h":9.1,"l":8.92,"c":9.03,"v":100,"m":-0.07},{"s":457,"o":9.11,"h":9.13,"l":9.03,"c":9.05,"v":100,"m":-0.06},{"s":458,"o":9.11,"h":9.37,"l":9.09,"c":9.35,"v":100,"m":-0.03},{"s":459,"o":9.44,"h":9.5,"l":9.2,"c":9.22,"v":100,"m":0},{"s":460,"o":9.27,"h":9.29,"l":9.06,"c":9.08,"v":110,"m":0.01},{"s":461,"o":9.22,"h":9.24,"l":9.05,"c":9.08,"v":230,"m":0.03},{"s":462,"o":9.24,"h":9.6,"l":9.22,"c":9.49,"v":200,"m":0.04},{"s":463,"o":9.49,"h":9.52,"l":9.0,"c":9.16,"v":130,"m":0.05},{"s":464,"o":9.39,"h":9.62,"l":9.3,"c":9.6,"v":150,"m":0.1},{"s":465,"o":9.935,"h":11.55,"l":9.853,"c":11.46,"v":900.33,"m":0.212}
],
"trend":[
{"id":"a","s":0,"p":15.67},{"id":"a","s":587.1,"p":15.03},
{"id":"red","s":0,"p":13.55},{"id":"red","s":587.1,"p":10.34},
{"id":"b","s":0,"p":5.358},{"id":"b","s":587.1,"p":16.39},
{"id":"grn","s":0,"p":5.061},{"id":"grn","s":587.1,"p":13.57},
{"id":"c","s":60.1,"p":4.974},{"id":"c","s":587.1,"p":9.97},
{"id":"d","s":36.5,"p":9.485},{"id":"d","s":587.1,"p":9.485},
{"id":"e","s":118.9,"p":9.37},{"id":"e","s":587.1,"p":9.37},
{"id":"f","s":300,"p":15.19},{"id":"f","s":484.1,"p":10.56},
{"id":"g","s":300.9,"p":11.45},{"id":"g","s":484.1,"p":7.97},
{"id":"h","s":405.2,"p":12.34},{"id":"h","s":471.2,"p":10.09},
{"id":"i","s":406,"p":10.95},{"id":"i","s":471.2,"p":8.98},
{"id":"grn2","s":300,"p":15.19},{"id":"grn2","s":516.7,"p":8.22},
{"id":"blue","s":155.8,"p":5.634},{"id":"blue","s":500.4,"p":12.75},
{"id":"thick","s":234.8,"p":11.59},{"id":"thick","s":522.7,"p":11.59}
],
"macd":[{"s":0,"a":-0.18},{"s":8.6,"a":-0.13},{"s":18.6,"a":-0.05},{"s":20.7,"a":0.08},{"s":25.7,"a":0.05},{"s":28.6,"a":0.34},{"s":32.1,"a":0.64},{"s":34.3,"a":0.74},{"s":38.6,"a":0.69},{"s":41.4,"a":0.67},{"s":44.3,"a":0.29},{"s":46.4,"a":0.05},{"s":47.9,"a":0},{"s":52.9,"a":0},{"s":55,"a":0.1},{"s":60,"a":0.1},{"s":65,"a":-0.08},{"s":70,"a":0},{"s":77.1,"a":0.1},{"s":85.7,"a":0.15},{"s":91.4,"a":0.08},{"s":100,"a":-0.12},{"s":108.6,"a":0.05},{"s":114.3,"a":0.1},{"s":119.3,"a":0.32},{"s":125.7,"a":0.2},{"s":135.7,"a":0.05},{"s":142.9,"a":-0.07},{"s":147.1,"a":-0.15},{"s":150,"a":-0.34},{"s":153.6,"a":-0.46},{"s":158.6,"a":-0.41},{"s":165.7,"a":-0.29},{"s":171.4,"a":-0.05},{"s":177.1,"a":0.07},{"s":183.6,"a":0.1},{"s":190,"a":0.03},{"s":200,"a":-0.02},{"s":214.3,"a":0},{"s":226,"a":0},{"s":230.3,"a":0.25},{"s":233.2,"a":0.59},{"s":235.3,"a":0.81},{"s":239.6,"a":0.83},{"s":242.5,"a":0.69},{"s":246.7,"a":0.34},{"s":250.3,"a":0},{"s":256,"a":-0.17},{"s":258.9,"a":-0.05},{"s":262.5,"a":0.2},{"s":266,"a":0.22},{"s":273.2,"a":-0.05},{"s":278.9,"a":0.2},{"s":283.2,"a":0.39},{"s":287.5,"a":0.34},{"s":292.5,"a":0.62},{"s":296,"a":1.03},{"s":299.9,"a":1.21},{"s":304.6,"a":1.08},{"s":308.9,"a":0.64},{"s":313.2,"a":0.34},{"s":323.2,"a":0.25},{"s":328.9,"a":0.1},{"s":333.2,"a":-0.12},{"s":343.2,"a":-0.15},{"s":349.6,"a":-0.18},{"s":351.7,"a":-0.37},{"s":356,"a":-0.44},{"s":360.3,"a":-0.2},{"s":363.9,"a":0},{"s":368.9,"a":-0.02},{"s":383.2,"a":-0.29},{"s":392.5,"a":-0.36},{"s":394.6,"a":-0.18},{"s":400.3,"a":-0.05},{"s":404.6,"a":0.23},{"s":407.5,"a":0.2},{"s":414.6,"a":0.05},{"s":421.7,"a":-0.05},{"s":428.9,"a":-0.12},{"s":436.3,"a":-0.15},{"s":443.5,"a":-0.22},{"s":448.5,"a":-0.25},{"s":450.6,"a":-0.42},{"s":455.6,"a":-0.46},{"s":461.3,"a":-0.37},{"s":463.5,"a":-0.29},{"s":464.5,"a":-0.09}],
"signal":[{"s":0,"a":-0.21},{"s":8.6,"a":-0.15},{"s":18.6,"a":-0.1},{"s":25.7,"a":0.05},{"s":31.4,"a":0.39},{"s":37.1,"a":0.64},{"s":40.7,"a":0.69},{"s":44.3,"a":0.54},{"s":48.6,"a":0.2},{"s":52.9,"a":0.05},{"s":58.6,"a":0.1},{"s":64.3,"a":-0.02},{"s":70,"a":0},{"s":77.1,"a":0.05},{"s":85.7,"a":0.13},{"s":91.4,"a":0.1},{"s":100,"a":-0.07},{"s":108.6,"a":0.03},{"s":114.3,"a":0.1},{"s":121.4,"a":0.25},{"s":128.6,"a":0.18},{"s":140,"a":0},{"s":147.1,"a":-0.1},{"s":151.4,"a":-0.29},{"s":157.1,"a":-0.43},{"s":165.7,"a":-0.34},{"s":174.3,"a":-0.05},{"s":180,"a":0.05},{"s":185.7,"a":0.05},{"s":200,"a":0},{"s":214.3,"a":0},{"s":226,"a":0},{"s":231.7,"a":0.29},{"s":236,"a":0.59},{"s":241,"a":0.71},{"s":247.5,"a":0.64},{"s":251.7,"a":0.29},{"s":256.7,"a":-0.05},{"s":260.3,"a":0.02},{"s":266.7,"a":0.17},{"s":274.6,"a":0.03},{"s":286,"a":0.31},{"s":293.2,"a":0.51},{"s":298.9,"a":0.88},{"s":303.9,"a":1.08},{"s":308.9,"a":0.88},{"s":317.5,"a":0.44},{"s":327.5,"a":0.2},{"s":336,"a":-0.05},{"s":348.9,"a":-0.15},{"s":353.2,"a":-0.34},{"s":358.2,"a":-0.39},{"s":367.5,"a":-0.07},{"s":374.6,"a":-0.15},{"s":383.2,"a":-0.25},{"s":392.5,"a":-0.31},{"s":400.3,"a":-0.15},{"s":406.7,"a":0.12},{"s":417.5,"a":0.1},{"s":428.9,"a":-0.08},{"s":436.3,"a":-0.13},{"s":447.8,"a":-0.23},{"s":452,"a":-0.34},{"s":457.8,"a":-0.39},{"s":464.5,"a":-0.3}],
"volma":[{"s":0,"a":90},{"s":20,"a":100},{"s":40,"a":130},{"s":47,"a":185},{"s":50,"a":170},{"s":70,"a":100},{"s":100,"a":90},{"s":113,"a":100},{"s":125,"a":110},{"s":150,"a":60},{"s":200,"a":50},{"s":214,"a":25},{"s":227,"a":40},{"s":240,"a":130},{"s":257,"a":170},{"s":280,"a":150},{"s":292,"a":180},{"s":299,"a":330},{"s":303,"a":370},{"s":317,"a":385},{"s":326,"a":300},{"s":333,"a":200},{"s":343,"a":110},{"s":357,"a":160},{"s":369,"a":190},{"s":383,"a":200},{"s":397,"a":230},{"s":415,"a":190},{"s":429,"a":150},{"s":436,"a":110},{"s":443,"a":80},{"s":458,"a":130},{"s":465,"a":181.94}]
},
"vconcat":[
{"width":1413,"height":700,"layer":[
{"data":{"values":[{"a":587.1,"b":606.44}]},"mark":{"type":"rect","fill":"#f4f4f4"},"encoding":{"x":{"field":"a","type":"quantitative","scale":{"domain":[0,606.44],"nice":false,"zero":false,"padding":0},"axis":{"values":[34.5,97.7,162.4,229.3,293.3,359.4,421.3],"orient":"bottom","offset":-4,"tickSize":3,"labelPadding":-21,"labelFontSize":12,"labelColor":"#666666","zindex":1,"labelExpr":"datum.value==34.5?\"Jan '16\":datum.value==97.7?'Apr':datum.value==162.4?'Jul':datum.value==229.3?'Okt':datum.value==293.3?\"Jan '17\":datum.value==359.4?'Apr':'Jul'"}},"x2":{"field":"b"}}},
{"data":{"name":"vgrid"},"mark":{"type":"rule","color":"#e8e8e8","strokeWidth":1,"clip":true},"encoding":{"x":{"field":"s","type":"quantitative"}}},
{"data":{"name":"hgrid"},"mark":{"type":"rule","color":"#eeeeee","strokeWidth":1,"clip":true},"encoding":{"x":{"field":"a","type":"quantitative"},"x2":{"field":"b"},"y":{"field":"p","type":"quantitative","scale":{"type":"log","domain":[4.974,16.702],"nice":false,"zero":false},"axis":{"values":[5,6,7,8,9,10,11,12,13,14,15,16],"orient":"right","offset":-45,"tickSize":5,"labelPadding":4,"zindex":1,"labelExpr":"replace(format(datum.value,'.3f'),'.',',')"}}}},
{"data":{"values":[{"a":300.4,"t":15.17,"b":11.45},{"a":484.1,"t":10.56,"b":7.97}]},"mark":{"type":"area","fill":"#ebfcfb"},"encoding":{"x":{"field":"a","type":"quantitative"},"y":{"field":"t","type":"quantitative"},"y2":{"field":"b"}}},
{"data":{"values":[{"a":406,"t":12.32,"b":10.95},{"a":471.2,"t":10.09,"b":8.98}]},"mark":{"type":"area","fill":"#dde2e2"},"encoding":{"x":{"field":"a","type":"quantitative"},"y":{"field":"t","type":"quantitative"},"y2":{"field":"b"}}},
{"data":{"name":"candles"},"mark":{"type":"rule","color":"#777777","strokeWidth":1,"clip":true},"encoding":{"x":{"field":"s","type":"quantitative"},"y":{"field":"l","type":"quantitative"},"y2":{"field":"h"}}},
{"data":{"name":"candles"},"mark":{"type":"bar","width":2.2,"strokeWidth":0.7,"clip":true},"encoding":{"x":{"field":"s","type":"quantitative"},"y":{"field":"o","type":"quantitative"},"y2":{"field":"c"},"fill":{"condition":{"test":"datum.c>=datum.o","value":"#3f9f2f"},"value":"#f23030"},"stroke":{"condition":{"test":"datum.c>=datum.o","value":"#4a7a4a"},"value":"#a85050"}}},
{"data":{"name":"trend"},"mark":{"type":"line","clip":true},"encoding":{"x":{"field":"s","type":"quantitative"},"y":{"field":"p","type":"quantitative"},"detail":{"field":"id"},"color":{"field":"id","type":"nominal","legend":null,"scale":{"domain":["a","b","c","d","e","f","g","h","i","thick","red","grn","grn2","blue"],"range":["#111111","#111111","#111111","#111111","#111111","#111111","#111111","#111111","#111111","#000000","#e8383c","#2f8a37","#2f8a37","#1438e0"]}},"strokeWidth":{"field":"id","type":"nominal","legend":null,"scale":{"type":"ordinal","domain":["a","b","c","d","e","f","g","h","i","thick","red","grn","grn2","blue"],"range":[1.2,1.2,1.2,1.2,1.2,1.2,1.2,1.2,1.2,3.4,1.2,1.2,1.2,3.4]}}}},
{"data":{"values":[{"s":405.6,"p":12.37},{"s":509.4,"p":12.35}]},"mark":{"type":"line","color":"#111111","strokeWidth":1,"strokeDash":[2,1],"clip":true},"encoding":{"x":{"field":"s","type":"quantitative"},"y":{"field":"p","type":"quantitative"}}},
{"data":{"values":[{"a":0,"b":124,"t":16.68,"u":16.2},{"a":0,"b":98,"t":16.2,"u":15.75}]},"mark":{"type":"rect","fill":"#ffffff"},"encoding":{"x":{"field":"a","type":"quantitative"},"x2":{"field":"b"},"y":{"field":"t","type":"quantitative"},"y2":{"field":"u"}}},
{"data":{"values":[{"s":9,"p":16.42,"t":"Medigene AG"},{"s":40.3,"p":16.42,"t":"O: 9,935"},{"s":60.9,"p":16.42,"t":"H: 11,550"},{"s":83.7,"p":16.42,"t":"L: 9,853"},{"s":103.4,"p":16.42,"t":"C: 11,460"}]},"mark":{"type":"text","color":"#7ab648"},"encoding":{"x":{"field":"s","type":"quantitative"},"y":{"field":"p","type":"quantitative"},"text":{"field":"t"}}},
{"data":{"values":[{"s":9,"p":15.97,"t":"10.11.2015 - 31.08.2017"},{"s":64,"p":15.97,"t":"(2 Jahre, 1 Tag)"}]},"mark":{"type":"text","color":"#444444"},"encoding":{"x":{"field":"s","type":"quantitative"},"y":{"field":"p","type":"quantitative"},"text":{"field":"t"}}},
{"data":{"values":[{"s":2.2,"a":16.53,"b":16.2},{"s":4.2,"a":16.58,"b":16.2},{"s":6,"a":16.5,"b":16.2}]},"mark":{"type":"rule","color":"#6aa84f","strokeWidth":1.6},"encoding":{"x":{"field":"s","type":"quantitative"},"y":{"field":"a","type":"quantitative"},"y2":{"field":"b"}}},
{"data":{"values":[{"s":4.3,"p":15.97}]},"mark":{"type":"point","shape":"circle","size":90,"filled":false,"color":"#333333","strokeWidth":1.3},"encoding":{"x":{"field":"s","type":"quantitative"},"y":{"field":"p","type":"quantitative"}}},
{"data":{"values":[{"s":4.3,"a":16.1,"b":15.97}]},"mark":{"type":"rule","color":"#333333","strokeWidth":1},"encoding":{"x":{"field":"s","type":"quantitative"},"y":{"field":"a","type":"quantitative"},"y2":{"field":"b"}}},
{"data":{"values":[{"s":587.1}]},"mark":{"type":"rule","color":"#cccccc","strokeWidth":1,"clip":true},"encoding":{"x":{"field":"s","type":"quantitative"}}},
{"data":{"values":[{"a":589,"b":606.44,"t":11.62,"u":11.24}]},"mark":{"type":"rect","fill":"#65b32e"},"encoding":{"x":{"field":"a","type":"quantitative"},"x2":{"field":"b"},"y":{"field":"t","type":"quantitative"},"y2":{"field":"u"}}},
{"data":{"values":[{"s":589,"p":11.43}]},"mark":{"type":"point","shape":"triangle-left","size":170,"filled":true,"color":"#65b32e","opacity":1},"encoding":{"x":{"field":"s","type":"quantitative"},"y":{"field":"p","type":"quantitative"}}},
{"data":{"values":[{"s":591,"p":11.42,"t":"11,460"}]},"mark":{"type":"text","color":"#0b2a08","fontSize":11.5},"encoding":{"x":{"field":"s","type":"quantitative"},"y":{"field":"p","type":"quantitative"},"text":{"field":"t"}}}
]},
{"width":1413,"height":64,"layer":[
{"data":{"values":[{"a":0,"b":587.1}]},"mark":{"type":"rect","fill":"#fbfbfb"},"encoding":{"x":{"field":"a","type":"quantitative","scale":{"domain":[0,606.44],"nice":false,"zero":false,"padding":0},"axis":null},"x2":{"field":"b"}}},
{"data":{"values":[{"a":587.1,"b":606.44}]},"mark":{"type":"rect","fill":"#f4f4f4"},"encoding":{"x":{"field":"a","type":"quantitative"},"x2":{"field":"b"}}},
{"data":{"name":"vgrid"},"mark":{"type":"rule","color":"#dcdcdc","strokeWidth":1,"clip":true},"encoding":{"x":{"field":"s","type":"quantitative"}}},
{"data":{"values":[{"a":0,"b":587.1,"p":0}]},"mark":{"type":"rule","color":"#dcdcdc","strokeWidth":1,"clip":true},"encoding":{"x":{"field":"a","type":"quantitative"},"x2":{"field":"b"},"y":{"field":"p","type":"quantitative","scale":{"domain":[-0.56,1.32],"nice":false,"zero":false},"axis":{"values":[0],"orient":"right","offset":-45,"tickSize":5,"labelPadding":4,"zindex":1,"labelExpr":"'0,000'"}}}},
{"data":{"name":"candles"},"mark":{"type":"bar","width":2.2,"fill":"#d3def2","stroke":"#a9bcdc","strokeWidth":0.6,"clip":true},"encoding":{"x":{"field":"s","type":"quantitative"},"y":{"field":"m","type":"quantitative"},"y2":{"datum":0}}},
{"data":{"name":"macd"},"mark":{"type":"line","color":"#35a7c0","strokeWidth":2,"clip":true},"encoding":{"x":{"field":"s","type":"quantitative"},"y":{"field":"a","type":"quantitative"}}},
{"data":{"name":"signal"},"mark":{"type":"line","color":"#665f88","strokeWidth":2,"clip":true},"encoding":{"x":{"field":"s","type":"quantitative"},"y":{"field":"a","type":"quantitative"}}},
{"data":{"values":[{"a":0,"b":91.4,"t":1.18,"u":0.65}]},"mark":{"type":"rect","fill":"#ffffff","opacity":0.92},"encoding":{"x":{"field":"a","type":"quantitative"},"x2":{"field":"b"},"y":{"field":"t","type":"quantitative"},"y2":{"field":"u"}}},
{"data":{"values":[{"s":3.4,"b":5.9,"a":0.91}]},"mark":{"type":"rule","color":"#35a7c0","strokeWidth":2},"encoding":{"x":{"field":"s","type":"quantitative"},"x2":{"field":"b"},"y":{"field":"a","type":"quantitative"}}},
{"data":{"values":[{"s":9,"a":0.91,"t":"MACD(12, 26, 9)"},{"s":46.8,"a":0.91,"t":"-0,089"}]},"mark":{"type":"text","color":"#35a7c0"},"encoding":{"x":{"field":"s","type":"quantitative"},"y":{"field":"a","type":"quantitative"},"text":{"field":"t"}}},
{"data":{"values":[{"s":62.7,"a":0.91,"t":"-0,301"}]},"mark":{"type":"text","color":"#5f5f75"},"encoding":{"x":{"field":"s","type":"quantitative"},"y":{"field":"a","type":"quantitative"},"text":{"field":"t"}}},
{"data":{"values":[{"s":78.5,"a":0.91,"t":"0,212"}]},"mark":{"type":"text","color":"#b9c9dc"},"encoding":{"x":{"field":"s","type":"quantitative"},"y":{"field":"a","type":"quantitative"},"text":{"field":"t"}}},
{"data":{"values":[{"s":587.1}]},"mark":{"type":"rule","color":"#cccccc","strokeWidth":1,"clip":true},"encoding":{"x":{"field":"s","type":"quantitative"}}}
]},
{"width":1413,"height":59,"layer":[
{"data":{"values":[{"a":0,"b":587.1}]},"mark":{"type":"rect","fill":"#fbfbfb"},"encoding":{"x":{"field":"a","type":"quantitative","scale":{"domain":[0,606.44],"nice":false,"zero":false,"padding":0},"axis":null},"x2":{"field":"b"}}},
{"data":{"values":[{"a":587.1,"b":606.44}]},"mark":{"type":"rect","fill":"#f4f4f4"},"encoding":{"x":{"field":"a","type":"quantitative"},"x2":{"field":"b"}}},
{"data":{"name":"vgrid"},"mark":{"type":"rule","color":"#dcdcdc","strokeWidth":1,"clip":true},"encoding":{"x":{"field":"s","type":"quantitative"}}},
{"data":{"values":[{"a":0,"b":587.1,"p":1000}]},"mark":{"type":"rule","color":"#dcdcdc","strokeWidth":1,"clip":true},"encoding":{"x":{"field":"a","type":"quantitative"},"x2":{"field":"b"},"y":{"field":"p","type":"quantitative","scale":{"domain":[0,1439],"nice":false},"axis":{"values":[1000],"orient":"right","offset":-45,"tickSize":5,"labelPadding":4,"zindex":1,"labelExpr":"'1,00M'"}}}},
{"data":{"name":"candles"},"mark":{"type":"bar","width":2.2,"strokeWidth":0.6,"clip":true},"encoding":{"x":{"field":"s","type":"quantitative"},"y":{"field":"v","type":"quantitative"},"fill":{"condition":{"test":"datum.c>=datum.o","value":"#52a82f"},"value":"#f23838"},"stroke":{"condition":{"test":"datum.c>=datum.o","value":"#3f7f3f"},"value":"#b04848"}}},
{"data":{"name":"volma"},"mark":{"type":"line","color":"#a2559c","strokeWidth":2,"clip":true},"encoding":{"x":{"field":"s","type":"quantitative"},"y":{"field":"a","type":"quantitative"}}},
{"data":{"values":[{"a":0,"b":74,"t":1317,"u":902}]},"mark":{"type":"rect","fill":"#ffffff"},"encoding":{"x":{"field":"a","type":"quantitative"},"x2":{"field":"b"},"y":{"field":"t","type":"quantitative"},"y2":{"field":"u"}}},
{"data":{"values":[{"s":2.6,"a":1060,"b":1170},{"s":4.3,"a":1060,"b":1280},{"s":6,"a":1060,"b":1120}]},"mark":{"type":"rule","color":"#3f8a3f","strokeWidth":2.4},"encoding":{"x":{"field":"s","type":"quantitative"},"y":{"field":"a","type":"quantitative"},"y2":{"field":"b"}}},
{"data":{"values":[{"s":9,"a":1122,"t":"Volume(28)"},{"s":35.6,"a":1122,"t":"900,33k"}]},"mark":{"type":"text","color":"#3f8a3f"},"encoding":{"x":{"field":"s","type":"quantitative"},"y":{"field":"a","type":"quantitative"},"text":{"field":"t"}}},
{"data":{"values":[{"s":55.4,"a":1122,"t":"181,94k"}]},"mark":{"type":"text","color":"#9a5a98"},"encoding":{"x":{"field":"s","type":"quantitative"},"y":{"field":"a","type":"quantitative"},"text":{"field":"t"}}},
{"data":{"values":[{"a":0,"b":606.44,"p":0}]},"mark":{"type":"rule","color":"#999999","strokeWidth":2,"clip":true},"encoding":{"x":{"field":"a","type":"quantitative"},"x2":{"field":"b"},"y":{"field":"p","type":"quantitative"}}},
{"data":{"values":[{"s":587.1}]},"mark":{"type":"rule","color":"#cccccc","strokeWidth":1,"clip":true},"encoding":{"x":{"field":"s","type":"quantitative"}}}
]}
]}
